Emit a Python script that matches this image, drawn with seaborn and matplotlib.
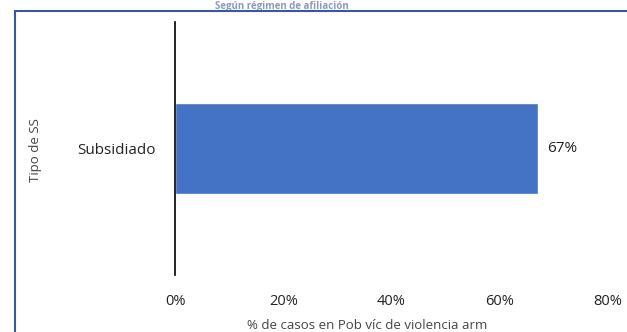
import matplotlib
matplotlib.use("Agg")
import matplotlib.pyplot as plt
import seaborn as sns
import pandas as pd
from matplotlib.patches import Rectangle

categories = ["Subsidiado"]
values = [0.67]
value_labels = ["67%"]
tick_values = [0, 0.2, 0.4, 0.6, 0.8]
tick_labels = ["0%", "20%", "40%", "60%", "80%"]
xlabel = "% de casos en Pob víc de violencia arm"
ylabel = "Tipo de SS"
title = "Según régimen de afiliación"

sns.set_style("white")
plt.rcParams['font.family'] = ['Open Sans', 'DejaVu Sans']

df = pd.DataFrame({"cat": categories, "val": values})

W, H = 627, 332
fig = plt.figure(figsize=(W / 100, H / 100), dpi=100)
ax = fig.add_axes([175 / W, 1 - 275 / H, (608 - 175) / W, (275 - 22) / H])

sns.barplot(data=df, x="val", y="cat", orient="h", color="#4472C4",
            width=0.36, saturation=1, ax=ax)

ax.set_xlim(0, 0.8)
ax.set_ylim(0.5, -0.5)
ax.set_xticks(tick_values)
ax.set_xticklabels(tick_labels, fontsize=10.5, color="#222222")
ax.tick_params(axis='x', length=0, pad=14)
ax.tick_params(axis='y', length=0, pad=14, labelsize=11, labelcolor="#222222")
for s in ["top", "right", "bottom"]:
    ax.spines[s].set_visible(False)
ax.spines["left"].set_color("black")
ax.spines["left"].set_linewidth(1.2)
ax.set_xlabel(xlabel, fontsize=9.5, color="#444444", labelpad=4)
ax.xaxis.set_label_coords((367 - 175) / (608 - 175), -0.175)
ax.set_ylabel("")

for v, lab in zip(values, value_labels):
    ax.annotate(lab, xy=(v, 0), xytext=(7, 0), textcoords="offset points",
                va="center", ha="left", fontsize=11, color="#222222")

fig.text(36 / W, 1 - 150 / H, ylabel, rotation=90, fontsize=9.5,
         color="#444444", ha="center", va="center")

fig.patches.append(Rectangle((15 / W, -0.1), 1.0, 1 - 11 / H + 0.1,
                             transform=fig.transFigure, fill=False,
                             edgecolor="#3B5998", linewidth=1.5))
fig.text(282 / W, 1 - 0.5 / H, title, fontsize=7, fontweight="bold",
         color="#3B5998", ha="center", va="top", alpha=0.6)

fig.savefig("out.png", dpi=100)
